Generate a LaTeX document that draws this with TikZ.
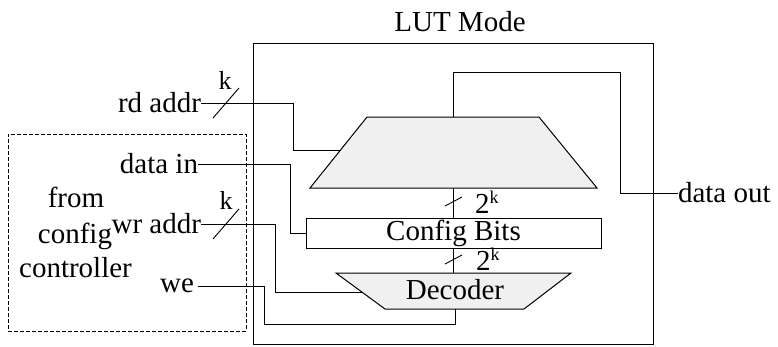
\documentclass[tikz,border=0pt]{standalone}
\usepackage{fontspec}
\setmainfont{Liberation Serif}
\begin{document}
\begin{tikzpicture}[x=1pt,y=-1pt,
  every node/.style={font=\fontsize{29}{34}\selectfont, inner sep=0pt, outer sep=0pt},
  wire/.style={line width=1pt, black},
  blk/.style={draw=black, line width=1pt, fill=black!6},
  slashmark/.style={line width=0.9pt, black},
  klabel/.style={font=\fontsize{26}{30}\selectfont, anchor=base},
  sig/.style={anchor=east}
]
\useasboundingbox (0,0) rectangle (778,346);
% title
\node[anchor=base] (title) at (460,31) {LUT Mode};
% outer LUT box
\node[draw=black, line width=1pt, minimum width=400pt, minimum height=301pt, anchor=north west] (lut) at (253,43) {};
% dashed controller box
\node[draw=black, line width=0.8pt, dash pattern=on 4pt off 2pt, minimum width=238pt, minimum height=197pt, anchor=north west] (ctrl) at (8,134) {};
\node[anchor=base] (from) at (76,207) {from};
\node[anchor=base] (config) at (75,243) {config};
\node[anchor=base] (controller) at (75.5,277) {controller};
% mux
\draw[blk] (310,188) -- (367,117) -- (539,117) -- (597,188) -- cycle;
\coordinate (muxT) at (453,117);
\coordinate (muxB) at (453,188);
\coordinate (muxL) at (340.5,150);
% config bits
\node[draw=black, line width=1pt, minimum width=295pt, minimum height=30pt] (cfg) at (453.5,233) {Config Bits};
% decoder
\draw[blk] (336,273) -- (571,273) -- (524,309) -- (385,309) -- cycle;
\node[anchor=base] (dec) at (455,299) {Decoder};
\coordinate (decN) at (453,273);
\coordinate (decS) at (455,309);
\coordinate (decL) at (362,292);
% signal labels
\node[sig] (rd) at (201,103) {rd addr};
\node[sig] (din) at (198,164) {data in};
\node[sig] (wr) at (201,224) {wr addr};
\node[sig, inner xsep=4pt] (we) at (198,286) {we};
\node[anchor=west] (dout) at (678,193) {data out};
% k labels and slashes
\node[klabel] (k1) at (225,89) {k};
\node[klabel] (k2) at (226,209) {k};
\draw[slashmark] (213,118) -- (239,88);
\draw[slashmark] (213,239) -- (239,209);
\node[anchor=base west] (p1) at (475,213) {2\raisebox{10pt}{\fontsize{18}{18}\selectfont k}};
\node[anchor=base west] (p2) at (476,270) {2\raisebox{10pt}{\fontsize{18}{18}\selectfont k}};
\draw[slashmark] (445,206) -- (462,197);
\draw[slashmark] (445,264) -- (462,255);
% connectors
\draw[wire] (rd.east) -- (293,103) |- (muxL);
\draw[wire] (din.east) -- (290,164) |- (cfg.west);
\draw[wire] (wr.east) -- (275,224) |- (decL);
\draw[wire] (we.east) -- (264,286) -- (264,324) -| (decS);
\draw[wire] (muxB) -- (muxB |- cfg.north);
\draw[wire] (cfg.south -| decN) -- (decN);
\draw[wire] (muxT) -- (453,72) -| (620,193) -- (dout.west);
\end{tikzpicture}
\end{document}
